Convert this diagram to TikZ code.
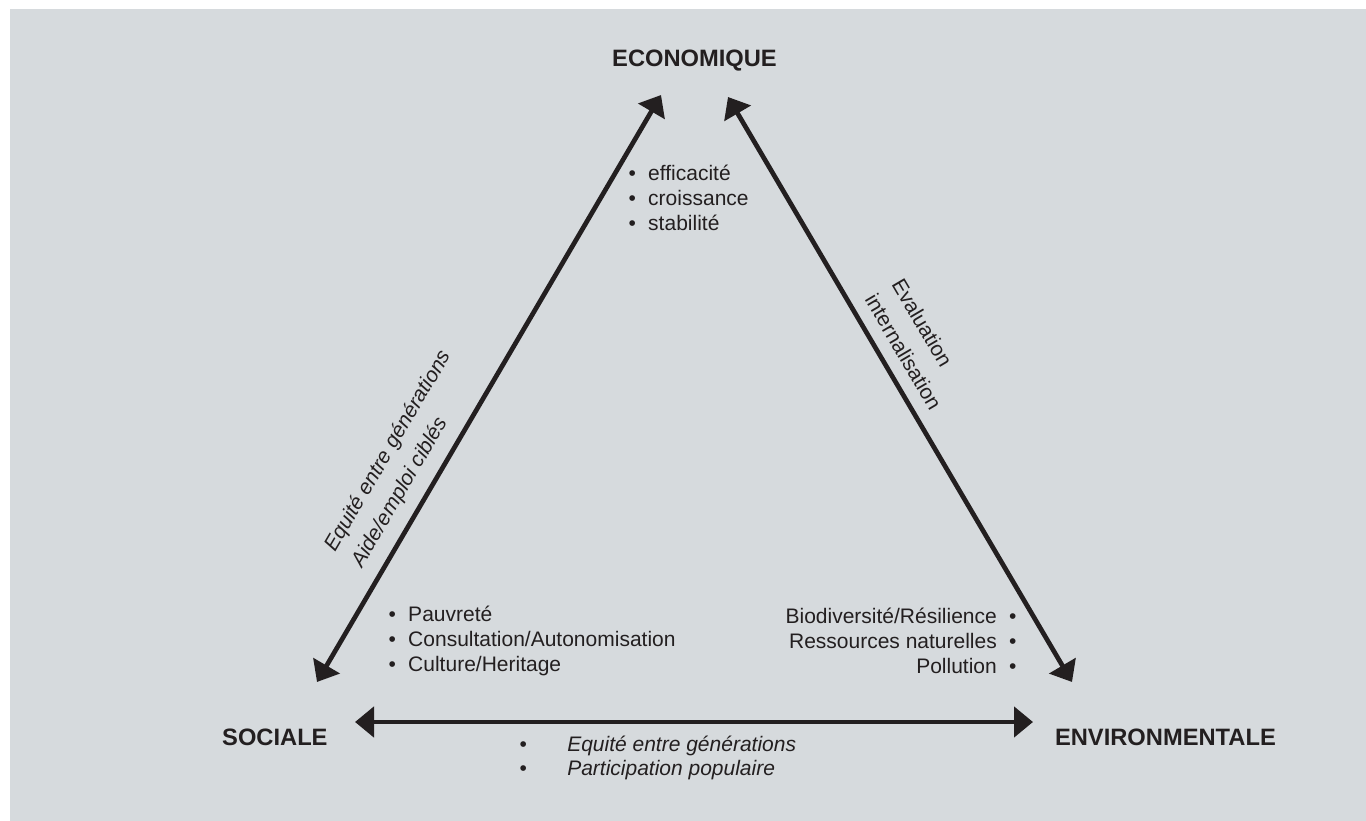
\documentclass[tikz,border=0pt]{standalone}
\usepackage{fontspec}
\setmainfont{Liberation Sans}
\usetikzlibrary{arrows.meta}
\definecolor{bg}{RGB}{214,218,221}
\definecolor{ink}{RGB}{35,31,32}
\begin{document}
\begin{tikzpicture}[x=1pt,y=-1pt,
  lbl/.style={font=\fontsize{23.7}{28}\selectfont\bfseries, text=ink, inner sep=0pt},
  item/.style={font=\fontsize{21}{25}\selectfont, text=ink, inner sep=0pt},
  side/.style={font=\fontsize{21}{27}\selectfont, text=ink, inner sep=0pt, align=left},
  sideit/.style={side, font=\fontsize{21}{27}\selectfont\itshape},
  dbl/.style={draw=ink, line width=4.7pt,
    {Triangle[length=19pt,width=30pt]}-{Triangle[length=19pt,width=30pt]}}]
\useasboundingbox (0,0) rectangle (1366,821);
\fill[white] (0,0) rectangle (1366,821);
\fill[bg] (10,9) rectangle (1366,821);

% corner labels
\node[lbl, anchor=base] (eco) at (694.5,67) {ECONOMIQUE};
\node[lbl, anchor=base west] (soc) at (222,745) {SOCIALE};
\node[lbl, anchor=base east] (env) at (1276,745) {ENVIRONMENTALE};

% arrow ends
\coordinate (ecoL) at (661,95);
\coordinate (ecoR) at (728,97);
\coordinate (socT) at (317,682);
\coordinate (socR) at (355,722);
\coordinate (envT) at (1072,682);
\coordinate (envL) at (1033,722);

\draw[dbl] (socT) -- (ecoL);
\draw[dbl] (ecoR) -- (envT);
\draw[dbl] (socR) -- (envL);

% side labels
\node[sideit, rotate=59.6] (lsoc) at (402,459) {Equité entre générations\\[4pt]Aide/emploi ciblés};
\node[side, rotate=-59.5] (lenv) at (917,344) {Evaluation\\[4pt]internalisation};

% economique list
\node[item, anchor=base west] (e1) at (628.3,181) {•\hspace{12.4pt}efficacité};
\node[item, anchor=base west] (e2) at (628.3,206) {•\hspace{12.4pt}croissance};
\node[item, anchor=base west] (e3) at (628.3,231) {•\hspace{12.4pt}stabilité};

% sociale list
\node[item, anchor=base west] (s1) at (388.3,621.5) {•\hspace{12.4pt}Pauvreté};
\node[item, anchor=base west] (s2) at (388.3,646.5) {•\hspace{12.4pt}Consultation/Autonomisation};
\node[item, anchor=base west] (s3) at (388.3,671.5) {•\hspace{12.4pt}Culture/Heritage};

% environmentale list
\node[item, anchor=base east] (n1) at (1016.7,623) {Biodiversité/Résilience\hspace{12.3pt}•};
\node[item, anchor=base east] (n2) at (1016.7,648) {Ressources naturelles\hspace{12.3pt}•};
\node[item, anchor=base east] (n3) at (1016.7,673) {Pollution\hspace{12.3pt}•};

% bottom list
\node[item, anchor=base west] (b1) at (519.3,751) {•\hspace{40.4pt}\textit{Equité entre générations}};
\node[item, anchor=base west] (b2) at (519.3,775) {•\hspace{40.4pt}\textit{Participation populaire}};
\end{tikzpicture}
\end{document}
